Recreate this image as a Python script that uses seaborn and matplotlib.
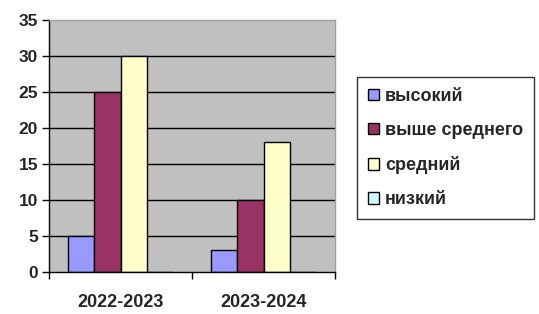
import pandas as pd
import numpy as np
import matplotlib
matplotlib.use("Agg")
import matplotlib.pyplot as plt
import seaborn as sns

years = ["2022-2023", "2023-2024"]
levels = ["высокий", "выше среднего", "средний", "низкий"]
vysokiy = [5, 3]
vyshe_srednego = [25, 10]
sredniy = [30, 18]
nizkiy = [0, 0]
colors = ["#9999FF", "#993366", "#FFFFCC", "#CCFFFF"]

rows = []
for lev, vals in zip(levels, [vysokiy, vyshe_srednego, sredniy, nizkiy]):
    for y, v in zip(years, vals):
        rows.append({"year": y, "level": lev, "value": v})
df = pd.DataFrame(rows)

sns.set_style("white")
plt.rcParams["font.family"] = ["Liberation Sans", "DejaVu Sans"]
plt.rcParams["font.weight"] = "bold"

fig = plt.figure(figsize=(5.39, 3.14), dpi=100)
ax = fig.add_axes([49 / 539, 1 - 272 / 314, (335 - 49) / 539, (272 - 20) / 314])
ax.set_facecolor("#C0C0C0")

sns.barplot(data=df, x="year", y="value", hue="level", hue_order=levels,
            palette=colors, edgecolor="black", linewidth=1, width=0.73,
            saturation=1, ax=ax, legend=True)

ax.set_ylim(0, 35)
ax.set_xlim(-0.5, 1.5)
ax.set_yticks(range(0, 36, 5))
for v in range(5, 35, 5):
    ax.axhline(v, color="black", lw=1, zorder=0.5)
ax.set_xlabel("")
ax.set_ylabel("")
ax.set_xticks([0, 1])
ax.set_xticklabels(years, fontsize=13, fontweight="bold")
ax.tick_params(axis="x", length=0, pad=16)
ax.set_xticks([-0.5, 0.5, 1.5], minor=True)
ax.tick_params(axis="x", which="minor", length=5, width=1, color="black", direction="out", bottom=True)
ax.tick_params(axis="y", length=5, width=1, color="black", direction="out", left=True, labelsize=12.5, pad=3)
for lab in ax.get_yticklabels():
    lab.set_fontweight("bold")
for s in ["left", "bottom"]:
    ax.spines[s].set_color("black")
    ax.spines[s].set_linewidth(1)
for s in ["top", "right"]:
    ax.spines[s].set_color("#A0A0A0")
    ax.spines[s].set_linewidth(1)

handles, labels = ax.get_legend_handles_labels()
ax.legend_.remove()
leg = fig.legend(handles, labels, loc="upper left", bbox_to_anchor=(357 / 539, 1 - 77 / 314),
                 frameon=True, fancybox=False, edgecolor="black",
                 prop={"weight": "bold", "size": 13}, handlelength=0.6, handleheight=0.6,
                 handletextpad=0.35, labelspacing=0.95, borderpad=0.6, borderaxespad=0)
leg.get_frame().set_linewidth(1)

fig.savefig("out.png", dpi=100, facecolor="white")
